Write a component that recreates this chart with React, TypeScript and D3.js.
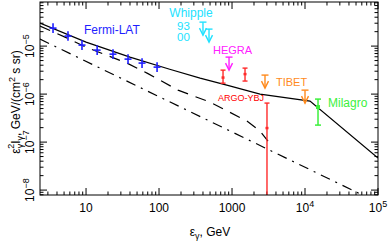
import React from 'react';
import * as d3 from 'd3';

// energies in GeV, fluxes in GeV/(cm^2 s sr)
const fermiE = [3.53, 5.66, 8.8, 14.2, 23.4, 37.6, 58.5, 94];
const fermiF = [2.37e-5, 1.62e-5, 1.05e-5, 8.25e-6, 6.8e-6, 5.36e-6, 4.43e-6, 3.65e-6];
const fermiLo = [1.88e-5, 1.29e-5, 8.3e-6, 6.5e-6, 5.4e-6, 4.25e-6, 3.5e-6, 2.9e-6];
const fermiHi = [2.98e-5, 2.04e-5, 1.32e-5, 1.04e-5, 8.6e-6, 6.75e-6, 5.6e-6, 4.6e-6];

const whippleE = [400, 484];
const whippleF = [3.16e-5, 2.26e-5];
const hegraE = [910];
const hegraF = [5.9e-6];
const tibetE = [2830, 10000];
const tibetF = [2.49e-6, 1.21e-6];

const argoE = [753, 1507, 3013];
const argoF = [2.21e-6, 2.61e-6, 1.96e-7];
const argoLo = [1.69e-6, 1.87e-6, 1e-9];
const argoHi = [3.16e-6, 3.48e-6, 6.5e-7];

const milagroE = [15070];
const milagroF = [5.37e-7];
const milagroLo = [2.26e-7];
const milagroHi = [7.87e-7];

const totalE = [2.34, 10, 40, 140, 365, 900, 2420, 11700, 1e5];
const totalF = [3.01e-5, 1.21e-5, 5.9e-6, 3.3e-6, 2.15e-6, 1.5e-6, 1.0e-6, 7.15e-7, 4.64e-8];

const dashE = [2.34, 5.15, 10, 37.6, 70.6, 182, 500, 1600, 2420, 3110];
const dashF = [2.61e-5, 1.54e-5, 9.5e-6, 4.32e-6, 2.67e-6, 1.21e-6, 6.8e-7, 2.74e-7, 1.7e-7, 1.05e-7];

const dotDashE = [2.34, 1e5];
const dotDashF = [1.4e-5, 5.5e-9];

const xMajor = [10, 100, 1000, 1e4, 1e5];
const xLabels = ['10', '100', '1000', '10|4', '10|5'];
const yMajor = [1e-8, 1e-7, 1e-6, 1e-5];
const yLabels = ['10|\u22128', '10|\u22127', '10|\u22126', '10|\u22125'];

const W = 390;
const H = 243;
const margin = { top: 2, left: 40, bottom: 48, right: 12 };
const FONT = '"Liberation Sans", Arial, sans-serif';

const BLUE = '#1f1fff';
const CYAN = '#22e2ff';
const MAGENTA = '#ff20ff';
const RED = '#ff2a2a';
const ORANGE = '#ff8a1c';
const GREEN = '#3cf03c';

function Pow({ s, size }: { s: string; size: number }) {
    const [b, e] = s.split('|');
    return (
        <>
            {b}
            {e ? <tspan dy={-5} fontSize={size - 3}>{e}</tspan> : null}
        </>
    );
}

function UpperLimit({ cx, cy, color }: { cx: number; cy: number; color: string }) {
    return (
        <g stroke={color} strokeWidth={1.4} fill="none">
            <line x1={cx - 3.5} x2={cx + 3.5} y1={cy} y2={cy} />
            <line x1={cx} x2={cx} y1={cy} y2={cy + 13} />
            <polyline points={`${cx - 3.5},${cy + 6} ${cx},${cy + 13} ${cx + 3.5},${cy + 6}`} />
        </g>
    );
}

export default function App() {
    const x0 = margin.left;
    const x1 = W - margin.right;
    const y0 = margin.top;
    const y1 = H - margin.bottom;

    const x = d3.scaleLog().domain([2.34, 1e5]).range([x0, x1]);
    const y = d3.scaleLog().domain([7.9e-9, 8.3e-5]).range([y1, y0]);

    const line = d3.line<[number, number]>().x(d => x(d[0])).y(d => y(d[1]));
    const total = line(totalE.map((e, i) => [e, totalF[i]]));
    const dashed = line(dashE.map((e, i) => [e, dashF[i]]));
    const dotDash = line(dotDashE.map((e, i) => [e, dotDashF[i]]));

    const xMinor: number[] = [];
    for (let d = 1; d <= 1e4; d *= 10) {
        for (let k = 2; k <= 9; k++) {
            const v = k * d;
            if (v >= 2.34 && v <= 1e5) xMinor.push(v);
        }
    }
    const yMinor: number[] = [];
    for (let d = 1e-9; d <= 1e-5; d *= 10) {
        for (let k = 2; k <= 9; k++) {
            const v = k * d;
            if (v >= 7.9e-9 && v <= 8.3e-5) yMinor.push(v);
        }
    }

    const major = 7;
    const minor = 3.5;

    return (
        <svg width={W} height={H} style={{ position: 'absolute', left: 0, top: 0, background: '#fff' }} fontFamily={FONT}>
            <defs>
                <clipPath id="plot">
                    <rect x={x0} y={y0} width={x1 - x0} height={y1 - y0} />
                </clipPath>
            </defs>

            {/* ticks, all four sides, inward */}
            <g stroke="#000" strokeWidth={1}>
                {xMajor.map(v => (
                    <g key={'xM' + v}>
                        <line x1={x(v)} x2={x(v)} y1={y1} y2={y1 - major} />
                        <line x1={x(v)} x2={x(v)} y1={y0} y2={y0 + major} />
                    </g>
                ))}
                {xMinor.map(v => (
                    <g key={'xm' + v}>
                        <line x1={x(v)} x2={x(v)} y1={y1} y2={y1 - minor} />
                        <line x1={x(v)} x2={x(v)} y1={y0} y2={y0 + minor} />
                    </g>
                ))}
                {yMajor.map(v => (
                    <g key={'yM' + v}>
                        <line x1={x0} x2={x0 + major} y1={y(v)} y2={y(v)} />
                        <line x1={x1} x2={x1 - major} y1={y(v)} y2={y(v)} />
                    </g>
                ))}
                {yMinor.map(v => (
                    <g key={'ym' + v}>
                        <line x1={x0} x2={x0 + minor} y1={y(v)} y2={y(v)} />
                        <line x1={x1} x2={x1 - minor} y1={y(v)} y2={y(v)} />
                    </g>
                ))}
            </g>

            {/* model curves */}
            <g clipPath="url(#plot)" fill="none" stroke="#000" strokeWidth={1.2}>
                <path d={total ?? ''} />
                <path d={dashed ?? ''} strokeDasharray="11,8" />
                <path d={dotDash ?? ''} strokeDasharray="10,6,2,6" />
            </g>

            {/* Fermi-LAT */}
            <g stroke={BLUE} strokeWidth={1.6}>
                {fermiE.map((e, i) => (
                    <g key={'f' + i}>
                        <line x1={x(e)} x2={x(e)} y1={y(fermiLo[i])} y2={y(fermiHi[i])} />
                        <line x1={x(e) - 3.5} x2={x(e) + 3.5} y1={y(fermiF[i])} y2={y(fermiF[i])} />
                    </g>
                ))}
            </g>
            <text x={84} y={34} fill={BLUE} fontSize={12}>Fermi-LAT</text>

            {/* Whipple */}
            {whippleE.map((e, i) => (
                <UpperLimit key={'w' + i} cx={x(e)} cy={y(whippleF[i])} color={CYAN} />
            ))}
            <text x={191} y={17} fill={CYAN} fontSize={12} textAnchor="middle">Whipple</text>
            <text x={177} y={30} fill={CYAN} fontSize={11.5}>93</text>
            <text x={177} y={41} fill={CYAN} fontSize={11.5}>00</text>

            {/* HEGRA */}
            {hegraE.map((e, i) => (
                <UpperLimit key={'h' + i} cx={x(e)} cy={y(hegraF[i])} color={MAGENTA} />
            ))}
            <text x={213} y={54} fill={MAGENTA} fontSize={11}>HEGRA</text>

            {/* ARGO-YBJ */}
            <g clipPath="url(#plot)" stroke={RED} strokeWidth={1.4}>
                {argoE.map((e, i) => (
                    <g key={'a' + i}>
                        <line x1={x(e)} x2={x(e)} y1={y(argoLo[i])} y2={y(argoHi[i])} />
                        <line x1={x(e) - 2.5} x2={x(e) + 2.5} y1={y(argoHi[i])} y2={y(argoHi[i])} />
                        <line x1={x(e) - 2.5} x2={x(e) + 2.5} y1={y(argoLo[i])} y2={y(argoLo[i])} />
                        <line x1={x(e) - 1.5} x2={x(e) + 1.5} y1={y(argoF[i])} y2={y(argoF[i])} strokeWidth={2.5} />
                    </g>
                ))}
            </g>
            <text x={218} y={101} fill="#f00" fontSize={9}>ARGO-YBJ</text>

            {/* TIBET */}
            {tibetE.map((e, i) => (
                <UpperLimit key={'t' + i} cx={x(e)} cy={y(tibetF[i])} color={ORANGE} />
            ))}
            <text x={276} y={86} fill={ORANGE} fontSize={11}>TIBET</text>

            {/* Milagro */}
            <g stroke={GREEN} strokeWidth={1.5}>
                {milagroE.map((e, i) => (
                    <g key={'m' + i}>
                        <line x1={x(e)} x2={x(e)} y1={y(milagroLo[i])} y2={y(milagroHi[i])} />
                        <line x1={x(e) - 3} x2={x(e) + 3} y1={y(milagroHi[i])} y2={y(milagroHi[i])} />
                        <line x1={x(e) - 3} x2={x(e) + 3} y1={y(milagroLo[i])} y2={y(milagroLo[i])} />
                        <rect x={x(e) - 2} y={y(milagroF[i]) - 2} width={4} height={4} fill={GREEN} stroke="none" />
                    </g>
                ))}
            </g>
            <text x={328} y={107} fill={GREEN} fontSize={12}>Milagro</text>

            {/* frame */}
            <rect x={x0} y={y0} width={x1 - x0} height={y1 - y0} fill="none" stroke="#000" strokeWidth={1} />

            {/* tick labels */}
            {xMajor.map((v, i) => (
                <text key={'xl' + v} x={x(v)} y={212} fontSize={12} textAnchor="middle">
                    <Pow s={xLabels[i]} size={12} />
                </text>
            ))}
            {yMajor.map((v, i) => (
                <text key={'yl' + v} transform={`translate(34,${y(v)}) rotate(-90)`} fontSize={12} textAnchor="middle">
                    <Pow s={yLabels[i]} size={12} />
                </text>
            ))}

            {/* axis titles */}
            <text x={210} y={236} fontSize={12} textAnchor="middle">
                ε<tspan dy={3} fontSize={9}>γ</tspan>
                <tspan dy={-3} fontSize={12}>,  GeV</tspan>
            </text>
            <text transform="translate(20,102) rotate(-90)" fontSize={12} textAnchor="middle">
                ε<tspan dy={3} fontSize={9}>γ</tspan>
                <tspan dx={-5} dy={-9} fontSize={9}>2</tspan>
                <tspan dy={6} fontSize={12}>I</tspan>
                <tspan dy={3} fontSize={9}>γ</tspan>
                <tspan dy={-3} fontSize={12}>, GeV/(cm</tspan>
                <tspan dy={-5} fontSize={9}>2</tspan>
                <tspan dy={5} fontSize={12}> s sr)</tspan>
            </text>
        </svg>
    );
}
